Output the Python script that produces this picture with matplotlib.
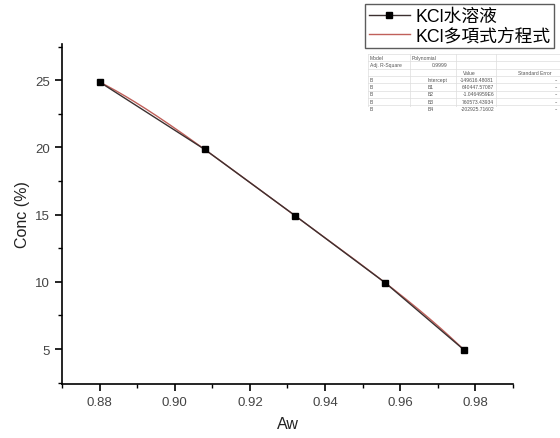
import numpy as np
import matplotlib.pyplot as plt
from matplotlib.lines import Line2D

plt.rcParams['font.family'] = ['Liberation Sans', 'Noto Sans CJK TC']

# measured KCl solution points
aw = [0.880, 0.908, 0.932, 0.956, 0.977]
conc = [24.87, 19.85, 14.93, 9.93, 4.93]

# fit report rows
fit_rows = [
    ['B', 'Intercept', '-149616.48081', '--'],
    ['B', 'B1', '640447.57087', '--'],
    ['B', 'B2', '-1.0464959E6', '--'],
    ['B', 'B3', '760573.43934', '--'],
    ['B', 'B4', '-202925.71602', '--'],
]

xticks = [0.88, 0.90, 0.92, 0.94, 0.96, 0.98]
yticks = [5, 10, 15, 20, 25]

fig = plt.figure(figsize=(5.6, 4.39), dpi=100)
ax = fig.add_axes([62 / 560, 1 - 385 / 439, 451 / 560, 340 / 439])

# 4th order polynomial through the points
coef = np.polyfit(aw, conc, 4)
xs = np.linspace(min(aw), max(aw), 200)
ax.plot(xs, np.polyval(coef, xs), color='#c0605a', lw=1.0, zorder=2)
ax.plot(aw, conc, color='#3c3030', lw=1.0, marker='s', ms=4.8,
        mfc='black', mec='black', zorder=3)

ax.set_xlim(0.87, 0.99)
ax.set_ylim(2.4, 27.7)
ax.set_xticks(xticks)
ax.set_xticklabels(['%.2f' % v for v in xticks])
ax.set_yticks(yticks)
ax.set_xticks(np.arange(0.87, 0.995, 0.01), minor=True)
ax.set_yticks(np.arange(2.5, 27.6, 2.5), minor=True)
ax.spines['top'].set_visible(False)
ax.spines['right'].set_visible(False)
for s in ['left', 'bottom']:
    ax.spines[s].set_linewidth(1.2)
ax.tick_params(which='major', direction='out', length=5, width=1.2,
               labelsize=9.5, labelcolor='#444444')
ax.tick_params(which='minor', direction='out', length=3, width=1.0)
ax.set_xlabel('Aw', fontsize=11.5, color='#222222', labelpad=6)
ax.set_ylabel('Conc (%)', fontsize=11.5, color='#222222', labelpad=4)

handles = [
    Line2D([], [], color='#3c3030', lw=1.0, marker='s', ms=5, mfc='black', mec='black'),
    Line2D([], [], color='#c0605a', lw=1.0),
]
leg = fig.legend(handles, ['KCl水溶液', 'KCl多項式方程式'],
                 loc='upper left', bbox_to_anchor=(365 / 560, 1 - 5 / 439),
                 fontsize=12.8, frameon=True, fancybox=False, handlelength=2.3,
                 handletextpad=0.3, borderpad=0.22, labelspacing=0.15,
                 borderaxespad=0)
leg.get_frame().set_edgecolor('#333333')
leg.get_frame().set_linewidth(1.0)

# fit parameter table
tx = fig.add_axes([368 / 560, 1 - 108 / 439, 192 / 560, 53 / 439])
tx.set_xlim(0, 192)
tx.set_ylim(53, 0)
tx.axis('off')
fs = 3.6
tc = '#555555'
row_h = 7.3
tx.text(2, 3.5, 'Model', fontsize=fs, color=tc, va='center')
tx.text(44, 3.5, 'Polynomial', fontsize=fs, color=tc, va='center')
tx.text(2, 3.5 + row_h, 'Adj. R-Square', fontsize=fs, color=tc, va='center')
tx.text(80, 3.5 + row_h, '0.9999', fontsize=fs, color=tc, va='center', ha='right')
tx.text(108, 3.5 + 2 * row_h, 'Value', fontsize=fs, color=tc, va='center', ha='right')
tx.text(150, 3.5 + 2 * row_h, 'Standard Error', fontsize=fs, color=tc, va='center')
for i, row in enumerate(fit_rows):
    y = 3.5 + (i + 3) * row_h
    tx.text(2, y, row[0], fontsize=fs, color=tc, va='center')
    tx.text(60, y, row[1], fontsize=fs, color=tc, va='center')
    tx.text(126, y, row[2], fontsize=fs, color=tc, va='center', ha='right')
    tx.text(190, y, row[3], fontsize=fs, color=tc, va='center', ha='right')
for k in range(9):
    tx.axhline(k * row_h, color='#dddddd', lw=0.5)
for xv in [0, 42, 88, 128]:
    tx.axvline(xv, color='#dddddd', lw=0.5)

fig.savefig('out.png', dpi=100)
